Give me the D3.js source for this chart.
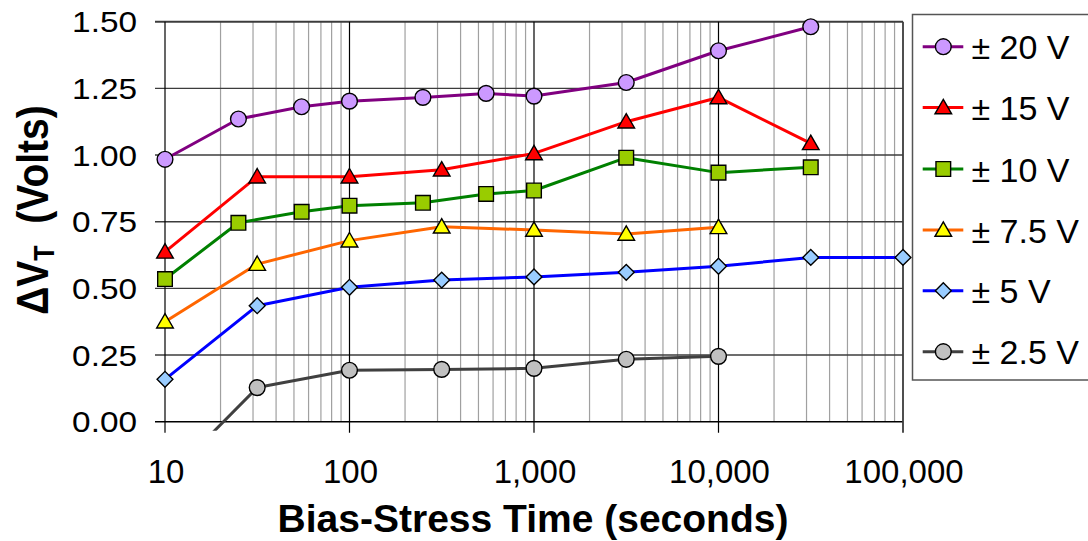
<!DOCTYPE html>
<html>
<head>
<meta charset="utf-8">
<script src="https://cdn.jsdelivr.net/npm/d3@7"></script>
<style>
  html, body { margin: 0; padding: 0; background: #fff; }
  svg { display: block; }
  text { font-family: "Liberation Sans", Arial, sans-serif; fill: #000; }
</style>
</head>
<body>
<svg id="chart" width="1088" height="541"></svg>
<script>
// Threshold-voltage shift versus bias-stress time, one series per stress voltage
const seriesNames = ["± 20 V", "± 15 V", "± 10 V", "± 7.5 V", "± 5 V", "± 2.5 V"];

const timesA = [10, 25, 55, 100, 250, 550, 1000, 3162, 10000, 31623];
const timesB = [10, 31.6, 100, 316, 1000, 3162, 10000, 31623, 100000];

const shift20  = [0.984, 1.135, 1.181, 1.202, 1.216, 1.231, 1.221, 1.272, 1.391, 1.481];
const shift15  = [0.637, 0.919, 0.919, 0.945, 1.006, 1.125, 1.216, 1.044];
const shift10  = [0.535, 0.746, 0.787, 0.810, 0.821, 0.854, 0.867, 0.990, 0.934, 0.954];
const shift7_5 = [0.375, 0.591, 0.679, 0.731, 0.719, 0.704, 0.729];
const shift5   = [0.159, 0.435, 0.504, 0.531, 0.543, 0.560, 0.583, 0.616, 0.616];
const shift2_5 = [-0.222, 0.128, 0.193, 0.196, 0.200, 0.234, 0.245];

const xTickValues = [10, 100, 1000, 10000, 100000];
const yTickValues = [0, 0.25, 0.5, 0.75, 1.0, 1.25, 1.5];

const lineColors   = ["#800080", "#ff0000", "#008000", "#ff6600", "#0000ff", "#404040"];
const markerFills  = ["#cc99ff", "#ff0000", "#99cc00", "#ffff00", "#99ccff", "#c0c0c0"];
const markerShapes = ["circle", "triangle", "square", "triangle", "diamond", "circle"];

const seriesValues = [shift20, shift15, shift10, shift7_5, shift5, shift2_5];
const seriesTimes  = [timesA, timesB.slice(0, 8), timesA, timesB.slice(0, 7), timesB, timesB.slice(0, 7)];

const series = seriesNames.map((name, i) => ({
  name,
  color: lineColors[i],
  fill: markerFills[i],
  shape: markerShapes[i],
  points: seriesValues[i].map((v, j) => ({ t: seriesTimes[i][j], v }))
}));

const svg = d3.select("#chart");
const plot = { left: 165, right: 903, top: 21.7, bottom: 421.7 };

const x = d3.scaleLog().domain([10, 100000]).range([plot.left, plot.right]);
const y = d3.scaleLinear().domain([0, 1.5]).range([plot.bottom, plot.top]);

// Minor vertical gridlines (2..9 within each decade)
const minorTicks = [];
for (let dec = 10; dec < 100000; dec *= 10) {
  for (let m = 2; m <= 9; m++) minorTicks.push(dec * m);
}
svg.append("g").selectAll("line").data(minorTicks).join("line")
  .attr("x1", d => x(d)).attr("x2", d => x(d))
  .attr("y1", plot.top).attr("y2", plot.bottom)
  .attr("stroke", "#a0a0a0").attr("stroke-width", 1.2);

// Horizontal gridlines with outside ticks on the left
svg.append("g").selectAll("line").data(yTickValues).join("line")
  .attr("x1", plot.left - 10).attr("x2", plot.right)
  .attr("y1", d => y(d)).attr("y2", d => y(d))
  .attr("stroke", d => d === 0 ? "#000" : "#3c3c3c")
  .attr("stroke-width", d => d === 1.5 ? 2 : 1.4);

// Decade gridlines with outside ticks below
svg.append("g").selectAll("line").data(xTickValues).join("line")
  .attr("x1", d => x(d)).attr("x2", d => x(d))
  .attr("y1", plot.top).attr("y2", plot.bottom + 11)
  .attr("stroke", d => d === 100000 ? "#3c3c3c" : "#000")
  .attr("stroke-width", d => d === 100000 ? 1.8 : 1.2);

// Y tick labels
svg.append("g").selectAll("text").data(yTickValues).join("text")
  .attr("transform", d => `translate(137,${y(d) + 10.5}) scale(1.15,1)`)
  .attr("text-anchor", "end")
  .attr("font-size", 29)
  .text(d => d3.format(".2f")(d));

// X tick labels
svg.append("g").selectAll("text").data(xTickValues).join("text")
  .attr("x", d => x(d) + 1).attr("y", 482.5)
  .attr("text-anchor", "middle")
  .attr("font-size", 33)
  .text(d => d3.format(",")(d));

// Axis titles
svg.append("text")
  .attr("x", 533).attr("y", 531.5)
  .attr("text-anchor", "middle")
  .attr("font-size", 39).attr("font-weight", "bold")
  .text("Bias-Stress Time (seconds)");

const yTitle = svg.append("text")
  .attr("transform", "translate(48,210) rotate(-90) scale(1,1.15)")
  .attr("text-anchor", "middle")
  .attr("font-size", 39).attr("font-weight", "bold");
yTitle.append("tspan").text("ΔV");
yTitle.append("tspan").attr("font-size", 25).attr("dy", 5).text("T");
yTitle.append("tspan").attr("dy", -5).text("\u00a0 (Volts)");

// Clip region: lines stop just below the zero axis
svg.append("defs").append("clipPath").attr("id", "plotClip")
  .append("rect").attr("x", 0).attr("y", 0)
  .attr("width", 1088).attr("height", plot.bottom + 9);

const symbolFor = shape => {
  if (shape === "circle") return d3.symbol(d3.symbolCircle, 195)();
  if (shape === "triangle") return d3.symbol(d3.symbolTriangle, 120)();
  if (shape === "square") return d3.symbol(d3.symbolSquare, 215)();
  return d3.symbol(d3.symbolDiamond2, 160)();
};

const line = d3.line().x(d => x(d.t)).y(d => y(d.v));
const data = svg.append("g").attr("clip-path", "url(#plotClip)");

series.slice().reverse().forEach(s => {
  data.append("path")
    .datum(s.points)
    .attr("d", line)
    .attr("fill", "none")
    .attr("stroke", s.color)
    .attr("stroke-width", 3)
    .attr("stroke-linejoin", "round");
});
series.slice().reverse().forEach(s => {
  data.append("g").selectAll("path").data(s.points).join("path")
    .attr("transform", d => `translate(${x(d.t)},${y(d.v) + (s.shape === "triangle" ? 1.5 : 0)})`)
    .attr("d", symbolFor(s.shape))
    .attr("fill", s.fill)
    .attr("stroke", "#000")
    .attr("stroke-width", 1.4);
});

// Legend
const legend = svg.append("g");
legend.append("rect")
  .attr("x", 912.5).attr("y", 14.5)
  .attr("width", 200).attr("height", 365.5)
  .attr("fill", "#fff").attr("stroke", "#555").attr("stroke-width", 1.5);

const legendRows = [46.7, 107.5, 169, 230, 290.7, 351.7];
series.forEach((s, i) => {
  const g = legend.append("g").attr("transform", `translate(0,${legendRows[i]})`);
  g.append("line").attr("x1", 922.7).attr("x2", 963.3).attr("y1", 0).attr("y2", 0)
    .attr("stroke", s.color).attr("stroke-width", 3);
  g.append("path")
    .attr("transform", `translate(943.3,${s.shape === "triangle" ? 1.5 : 0})`)
    .attr("d", symbolFor(s.shape))
    .attr("fill", s.fill).attr("stroke", "#000").attr("stroke-width", 1.4);
  g.append("text").attr("x", 971.5).attr("y", 12.6)
    .attr("font-size", 34).text(s.name);
});
</script>
</body>
</html>
